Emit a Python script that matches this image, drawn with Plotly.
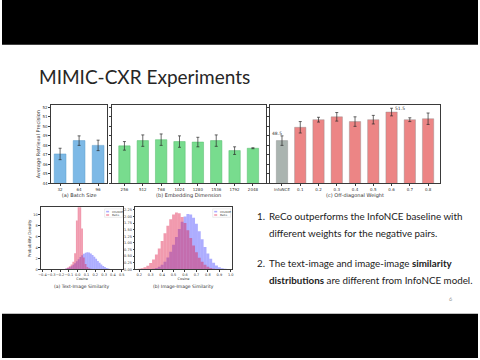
import plotly.graph_objects as go

W, H = 480, 360

# ---------------- data ----------------
batch_sizes = ["32", "64", "96"]
batch_vals = [47.1, 48.5, 48.0]
batch_err = [0.6, 0.5, 0.55]

emb_dims = ["256", "512", "768", "1024", "1280", "1536", "1792", "2048"]
emb_vals = [47.95, 48.5, 48.6, 48.4, 48.35, 48.5, 47.45, 47.7]
emb_err = [0.45, 0.6, 0.6, 0.6, 0.5, 0.6, 0.4, 0.05]

weights = ["InfoNCE", "0.1", "0.2", "0.3", "0.4", "0.5", "0.6", "0.7", "0.8"]
weight_vals = [48.5, 49.9, 50.7, 51.0, 50.5, 50.7, 51.5, 50.7, 50.8]
weight_err = [0.5, 0.6, 0.25, 0.45, 0.5, 0.45, 0.4, 0.2, 0.6]

# text-image similarity histogram (bin centres, densities)
ti_infonce_x = [-0.19, -0.17, -0.15, -0.13, -0.11, -0.09, -0.07, -0.05, -0.03, -0.01,
                0.01, 0.03, 0.05, 0.07, 0.09, 0.11, 0.13, 0.15, 0.17, 0.19,
                0.21, 0.23, 0.25, 0.27, 0.29, 0.31, 0.33, 0.35, 0.37, 0.39, 0.41]
ti_infonce_y = [0.04, 0.06, 0.10, 0.17, 0.27, 0.42, 0.60, 0.86, 1.16, 1.52,
                1.90, 2.28, 2.62, 2.90, 3.08, 3.16, 3.12, 2.95, 2.68, 2.34,
                1.96, 1.58, 1.22, 0.90, 0.64, 0.44, 0.29, 0.18, 0.11, 0.06, 0.03]
ti_reco_x = [-0.15, -0.13, -0.11, -0.09, -0.07, -0.05, -0.03, -0.01, 0.01, 0.03,
             0.05, 0.07, 0.09, 0.11, 0.13, 0.15, 0.17]
ti_reco_y = [0.10, 0.20, 0.35, 0.60, 0.90, 1.40, 3.0, 9.0, 16.0, 14.0,
             7.5, 2.2, 1.0, 0.45, 0.25, 0.12, 0.05]

# image-image similarity histogram
ii_infonce_x = [0.3, 0.325, 0.35, 0.375, 0.4, 0.425, 0.45, 0.475, 0.5, 0.525,
                0.55, 0.575, 0.6, 0.625, 0.65, 0.675, 0.7, 0.725, 0.75, 0.775,
                0.8, 0.825, 0.85, 0.875, 0.9, 0.925, 0.95, 0.975]
ii_infonce_y = [0.015, 0.03, 0.055, 0.10, 0.175, 0.29, 0.45, 0.665, 0.93, 1.225,
                1.525, 1.795, 1.995, 2.09, 2.075, 1.945, 1.725, 1.44, 1.14, 0.85,
                0.60, 0.40, 0.255, 0.15, 0.085, 0.045, 0.025, 0.01]
ii_reco_x = [0.175, 0.2, 0.225, 0.25, 0.275, 0.3, 0.325, 0.35, 0.375, 0.4,
             0.425, 0.45, 0.475, 0.5, 0.525, 0.55, 0.575, 0.6, 0.625, 0.65,
             0.675, 0.7, 0.725, 0.75, 0.775, 0.8, 0.825, 0.85, 0.875, 0.9]
ii_reco_y = [0.01, 0.025, 0.045, 0.085, 0.145, 0.24, 0.38, 0.565, 0.795, 1.07,
             1.365, 1.65, 1.895, 2.07, 2.15, 2.115, 1.98, 1.755, 1.48, 1.185,
             0.90, 0.65, 0.445, 0.29, 0.18, 0.105, 0.06, 0.03, 0.015, 0.005]

ti_ticks = [-0.4, -0.3, -0.2, -0.1, 0.0, 0.1, 0.2, 0.3, 0.4, 0.5]
ii_ticks = [0.2, 0.3, 0.4, 0.5, 0.6, 0.7, 0.8, 0.9, 1.0]

# ---------------- styles ----------------
BLUE = "#7db9e6"
GREEN = "#78dc8e"
CORAL = "#ec8585"
GRAY = "#aab4b0"
H_BLUE = "rgba(40,40,255,0.38)"
H_PINK = "rgba(225,30,75,0.45)"
MPL = "DejaVu Sans"
SLIDE = "Lato"


def px(xa, xb):
    return [xa / W, xb / W]


def py(top, bottom):
    return [1 - bottom / H, 1 - top / H]


def axis(**kw):
    base = dict(showline=True, linecolor="#3a3a3a", linewidth=0.6, mirror=True,
                ticks="outside", ticklen=2, tickwidth=0.5, tickcolor="#3a3a3a",
                tickfont=dict(size=4, family=MPL, color="#333"), tickangle=0,
                showgrid=False, zeroline=False)
    base.update(kw)
    return base


err_style = dict(type="data", color="#2a2a2a", thickness=0.7, width=1.5)

fig = go.Figure()

fig.add_trace(go.Bar(x=batch_sizes, y=batch_vals, width=0.62,
                     error_y=dict(array=batch_err, **err_style),
                     marker=dict(color=BLUE, line=dict(color="#5a9ccc", width=0.5)),
                     xaxis="x", yaxis="y", showlegend=False))
fig.add_trace(go.Bar(x=emb_dims, y=emb_vals, width=0.62,
                     error_y=dict(array=emb_err, **err_style),
                     marker=dict(color=GREEN, line=dict(color="#55bb6c", width=0.5)),
                     xaxis="x2", yaxis="y2", showlegend=False))
wcolors = [GRAY] + [CORAL] * (len(weights) - 1)
fig.add_trace(go.Bar(x=weights, y=weight_vals, width=0.62,
                     error_y=dict(array=weight_err, **err_style),
                     marker=dict(color=wcolors, line=dict(color="#8a8a8a", width=0.4)),
                     xaxis="x3", yaxis="y3", showlegend=False))

fig.add_trace(go.Bar(x=ti_infonce_x, y=ti_infonce_y, width=0.02, marker=dict(color=H_BLUE, line=dict(width=0)),
                     xaxis="x4", yaxis="y4", showlegend=False))
fig.add_trace(go.Bar(x=ti_reco_x, y=ti_reco_y, width=0.02, marker=dict(color=H_PINK, line=dict(width=0)),
                     xaxis="x4", yaxis="y4", showlegend=False))
fig.add_trace(go.Bar(x=ii_infonce_x, y=ii_infonce_y, width=0.025, marker=dict(color=H_BLUE, line=dict(width=0)),
                     xaxis="x5", yaxis="y5", showlegend=False))
fig.add_trace(go.Bar(x=ii_reco_x, y=ii_reco_y, width=0.025, marker=dict(color=H_PINK, line=dict(width=0)),
                     xaxis="x5", yaxis="y5", showlegend=False))

bar_y = py(105.5, 184.5)
hist_y = py(208.5, 271)
xt = dict(size=5, family=MPL, color="#333")
ht = dict(size=3.5, family=MPL, color="#333")

fig.update_layout(
    width=W, height=H, margin=dict(l=0, r=0, t=0, b=0),
    paper_bgcolor="white", plot_bgcolor="white", barmode="overlay",
    xaxis=axis(domain=px(49.5, 106), anchor="y", type="category", range=[-0.475, 2.475],
               title=dict(text="(a) Batch Size", font=xt, standoff=1)),
    yaxis=axis(domain=bar_y, anchor="x", range=[44, 52.25], dtick=1,
               title=dict(text="Average Retrieval Precision", font=xt, standoff=1)),
    xaxis2=axis(domain=px(110.5, 266), anchor="y2", type="category", range=[-0.7, 7.7],
                title=dict(text="(b) Embedding Dimension", font=xt, standoff=1)),
    yaxis2=axis(domain=bar_y, anchor="x2", range=[44, 52.25], dtick=1, showticklabels=False),
    xaxis3=axis(domain=px(270, 442), anchor="y3", type="category", range=[-0.67, 8.67],
                title=dict(text="(c) Off-diagonal Weight", font=xt, standoff=1)),
    yaxis3=axis(domain=bar_y, anchor="x3", range=[44, 52.25], dtick=1, showticklabels=False),
    xaxis4=axis(domain=px(39, 122.5), anchor="y4", range=[-0.42, 0.52], tickvals=ti_ticks,
                tickformat=".1f", tickfont=ht, ticklen=1.5,
                title=dict(text="Cosine", font=ht, standoff=0)),
    yaxis4=axis(domain=hist_y, anchor="x4", range=[0, 11.4], dtick=2, tickfont=ht, ticklen=1.5,
                title=dict(text="Probability Density", font=dict(size=4, family=MPL, color="#333"), standoff=1)),
    xaxis5=axis(domain=px(134, 232), anchor="y5", range=[0.1625, 1.011], tickvals=ii_ticks,
                tickformat=".1f", tickfont=ht, ticklen=1.5,
                title=dict(text="Cosine", font=ht, standoff=0)),
    yaxis5=axis(domain=hist_y, anchor="x5", range=[0, 2.34], dtick=0.25, tickformat=".2f",
                tickfont=ht, ticklen=1.5),
)

shapes = [
    dict(type="rect", xref="paper", yref="paper", x0=0, x1=1, y0=1 - 45 / H, y1=1,
         fillcolor="black", line=dict(width=0), layer="above"),
    dict(type="rect", xref="paper", yref="paper", x0=0, x1=1, y0=0, y1=1 - 315.5 / H,
         fillcolor="black", line=dict(width=0), layer="above"),
]


def legend_box(x0, x1, y0, y1):
    shapes.append(dict(type="rect", xref="paper", yref="paper", x0=x0 / W, x1=x1 / W,
                       y0=1 - y1 / H, y1=1 - y0 / H, fillcolor="white",
                       line=dict(color="#cccccc", width=0.4), layer="above"))
    shapes.append(dict(type="rect", xref="paper", yref="paper", x0=(x0 + 1.5) / W, x1=(x0 + 4.5) / W,
                       y0=1 - (y0 + 3.6) / H, y1=1 - (y0 + 2.0) / H, fillcolor=H_BLUE,
                       line=dict(width=0), layer="above"))
    shapes.append(dict(type="rect", xref="paper", yref="paper", x0=(x0 + 1.5) / W, x1=(x0 + 4.5) / W,
                       y0=1 - (y0 + 7.0) / H, y1=1 - (y0 + 5.4) / H, fillcolor=H_PINK,
                       line=dict(width=0), layer="above"))


legend_box(103.5, 121.5, 210, 218.5)
legend_box(212.5, 230.5, 210, 218.5)
fig.update_layout(shapes=shapes)

ann = []


def text(x, y, s, size, family=SLIDE, color="#222", xanchor="left", yanchor="middle", **kw):
    ann.append(dict(x=x / W, y=1 - y / H, xref="paper", yref="paper", text=s, showarrow=False,
                    xanchor=xanchor, yanchor=yanchor,
                    font=dict(size=size, family=family, color=color), **kw))


# legend labels
for lx in (108.5, 217.5):
    text(lx, 212.8, "InfoNCE", 2.8, family=MPL, color="#333")
    text(lx, 216.2, "ReCo", 2.8, family=MPL, color="#333")

# value labels on (c) (category index positions)
ann.append(dict(x=weights.index("InfoNCE"), y=weight_vals[0] + weight_err[0], xref="x3", yref="y3",
                text="48.5", showarrow=False, xanchor="right", yanchor="middle", xshift=2, yshift=2,
                font=dict(size=4.5, family=MPL, color="#333")))
ann.append(dict(x=weights.index("0.6"), y=weight_vals[6] + weight_err[6], xref="x3", yref="y3",
                text="51.5", showarrow=False, xanchor="left", yanchor="middle", xshift=1, yshift=0,
                font=dict(size=4.5, family=MPL, color="#333")))

# subplot captions of histograms
text(81, 288.5, "(a) Text-Image Similarity", 4.5, family=MPL, color="#333", xanchor="center")
text(183, 288, "(b) Image-Image Similarity", 4.5, family=MPL, color="#333", xanchor="center")

# slide title
text(35, 77, "MIMIC-CXR Experiments", 19, color="#262626")

# bullet text
FS = 9.8
text(255, 217, "1.", FS)
text(267, 217, "ReCo outperforms the InfoNCE baseline with", FS)
text(267, 234.5, "different weights for the negative pairs.", FS)
text(255, 264.5, "2.", FS)
text(267, 264.5, "The text-image and image-image <b>similarity</b>", FS)
text(267, 281.5, "<b>distributions</b> are different from InfoNCE model.", FS)

# page number
text(452, 301, "6", 5.5, color="#999999", xanchor="center")

fig.update_layout(annotations=ann)

fig.write_html("out.html", include_plotlyjs=True, config={"displayModeBar": False},
               post_script="document.body.style.margin='0';document.body.style.overflow='hidden';")
